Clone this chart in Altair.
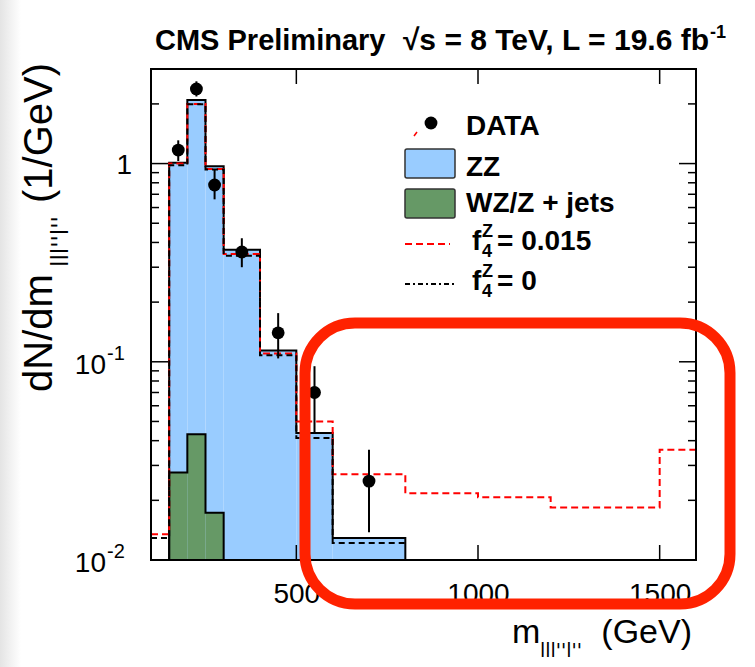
import altair as alt
import pandas as pd

# ---------------- data ----------------
# ZZ (stacked MC, light blue)
zz_lo = [150, 200, 250, 300, 400, 500, 600]
zz_hi = [200, 250, 300, 400, 500, 600, 800]
zz_val = [1.01, 2.09, 0.97, 0.368, 0.114, 0.0437, 0.0129]

# WZ/Z + jets (green)
wz_lo = [150, 200, 250]
wz_hi = [200, 250, 300]
wz_val = [0.0276, 0.0431, 0.0173]

# f4Z = 0.015 (red dashed)
f4a_edges = [100, 150, 200, 250, 300, 400, 500, 600, 800, 1000, 1200, 1500, 1600]
f4a_val = [0.0135, 1.0, 2.0, 0.94, 0.35, 0.11, 0.05, 0.0271, 0.0217, 0.0207, 0.0184, 0.036]

# f4Z = 0 (black dash)
f4b_edges = [100, 150, 200, 250, 300, 400, 500, 600, 800]
f4b_val = [0.0129, 0.98, 1.99, 0.933, 0.343, 0.108, 0.0412, 0.0122]

# DATA points with error bars
data_x = [175, 225, 275, 350, 450, 550, 700]
data_y = [1.17, 2.38, 0.78, 0.358, 0.140, 0.070, 0.025]
data_lo = [1.03, 2.18, 0.66, 0.30, 0.104, 0.044, 0.0138]
data_hi = [1.31, 2.60, 0.93, 0.42, 0.176, 0.095, 0.036]

# axis ticks / labels
x_ticks = [500, 1000, 1500]
y_major = [0.1, 1.0]
y_minor = [0.02, 0.03, 0.04, 0.05, 0.06, 0.07, 0.08, 0.09,
           0.2, 0.3, 0.4, 0.5, 0.6, 0.7, 0.8, 0.9, 2.0]
y_pow_vals = [0.1, 0.01]
y_pow_base = ["10", "10"]
y_pow_exp = ["-1", "-2"]

XMIN, XMAX = 100, 1600
YMIN, YMAX = 0.01, 3.0

W, H = 545, 491
FONT = "Liberation Sans"
SUBFONT = "DejaVu Sans"
BLUE = "#99ccff"
GREEN = "#669966"
RED = "#ff0000"

# ---------------- helpers ----------------
xs = alt.Scale(domain=[XMIN, XMAX], nice=False, zero=False)
ys = alt.Scale(type="log", domain=[YMIN, YMAX], nice=False)
xaxis = alt.Axis(values=x_ticks, format="d", ticks=False, tickSize=0, domain=False, grid=False,
                 labelFontSize=28, labelFont=FONT, labelColor="black",
                 labelPadding=20, title=None, labelFlush=False)


def X(f):
    return alt.X(f, type="quantitative", scale=xs, axis=xaxis)


def Y(f):
    return alt.Y(f, type="quantitative", scale=ys, axis=None)


def steps(edges, vals, close):
    px, py = [], []
    if close:
        px.append(edges[0]); py.append(YMIN)
    for e, v in zip(edges[:-1], vals):
        px.append(e); py.append(v)
    px.append(edges[-1]); py.append(vals[-1])
    if close:
        px.append(edges[-1]); py.append(YMIN)
    return pd.DataFrame({"x": px, "y": py, "i": list(range(len(px)))})


dummy = pd.DataFrame({"a": [0]})


def txt(s, x, y, size, bold=False, align="left", angle=0, baseline="alphabetic",
        color="black", font=FONT):
    kw = dict(text=s, fontSize=size, font=font, align=align, baseline=baseline, color=color)
    if bold:
        kw["fontWeight"] = "bold"
    if angle:
        kw["angle"] = angle
    return alt.Chart(dummy).mark_text(**kw).encode(x=alt.value(x), y=alt.value(y))


zz_df = pd.DataFrame({"lo": zz_lo, "hi": zz_hi, "v": zz_val, "b": [YMIN] * len(zz_val)})
wz_df = pd.DataFrame({"lo": wz_lo, "hi": wz_hi, "v": wz_val, "b": [YMIN] * len(wz_val)})
pts_df = pd.DataFrame({"x": data_x, "y": data_y, "lo": data_lo, "hi": data_hi})

layers = []

# light grey strip at the far left (screenshot edge)
layers.append(alt.Chart(dummy).mark_rect(
    color=alt.Gradient(gradient="linear",
                       stops=[alt.GradientStop(color="#e4e4e4", offset=0),
                              alt.GradientStop(color="#ffffff", offset=1)],
                       x1=0, x2=1, y1=0, y2=0)
).encode(x=alt.value(-151), x2=alt.value(-130), y=alt.value(-69), y2=alt.value(598)))

# histograms
layers.append(alt.Chart(zz_df).mark_rect(color=BLUE).encode(
    x=X("lo"), x2=alt.X2("hi"), y=Y("v"), y2=alt.Y2("b")))
layers.append(alt.Chart(wz_df).mark_rect(color=GREEN).encode(
    x=X("lo"), x2=alt.X2("hi"), y=Y("v"), y2=alt.Y2("b")))
layers.append(alt.Chart(steps(zz_lo + [zz_hi[-1]], zz_val, True)).mark_line(
    interpolate="step-after", color="black", strokeWidth=2).encode(
    x=X("x"), y=Y("y"), order="i:Q"))
layers.append(alt.Chart(steps(wz_lo + [wz_hi[-1]], wz_val, True)).mark_line(
    interpolate="step-after", color="black", strokeWidth=2).encode(
    x=X("x"), y=Y("y"), order="i:Q"))
layers.append(alt.Chart(steps(f4a_edges, f4a_val, False)).mark_line(
    interpolate="step-after", color=RED, strokeWidth=2, strokeDash=[7, 4]).encode(
    x=X("x"), y=Y("y"), order="i:Q"))
layers.append(alt.Chart(steps(f4b_edges, f4b_val, False)).mark_line(
    interpolate="step-after", color="black", strokeWidth=2, strokeDash=[6, 4]).encode(
    x=X("x"), y=Y("y"), order="i:Q"))

# data
layers.append(alt.Chart(pts_df).mark_rule(color="black", strokeWidth=2).encode(
    x=X("x"), y=Y("lo"), y2=alt.Y2("hi")))
layers.append(alt.Chart(pts_df).mark_circle(color="black", size=165, opacity=1).encode(
    x=X("x"), y=Y("y")))

# frame
layers.append(alt.Chart(dummy).mark_rect(fillOpacity=0, stroke="black", strokeWidth=2).encode(
    x=alt.value(0), x2=alt.value(W), y=alt.value(0), y2=alt.value(H)))

# ticks (inside, all four sides)
ymin_df = pd.DataFrame({"v": y_minor})
ymaj_df = pd.DataFrame({"v": y_major})
xt_df = pd.DataFrame({"v": x_ticks})
for df, ln in ((ymin_df, 8), (ymaj_df, 17)):
    layers.append(alt.Chart(df).mark_rule(color="black", strokeWidth=1.5).encode(
        y=Y("v"), x=alt.value(0), x2=alt.value(ln)))
    layers.append(alt.Chart(df).mark_rule(color="black", strokeWidth=1.5).encode(
        y=Y("v"), x=alt.value(W - ln), x2=alt.value(W)))
layers.append(alt.Chart(xt_df).mark_rule(color="black", strokeWidth=1.5).encode(
    x=X("v"), y=alt.value(H), y2=alt.value(H - 15)))
layers.append(alt.Chart(xt_df).mark_rule(color="black", strokeWidth=1.5).encode(
    x=X("v"), y=alt.value(0), y2=alt.value(15)))

# y tick labels
layers.append(alt.Chart(dummy).mark_text(text="1", fontSize=28, font=FONT, align="right",
                                         baseline="middle", dy=2).encode(
    x=alt.value(-19), y=alt.Y(datum=1.0, scale=ys, axis=None)))
ypow_df = pd.DataFrame({"v": y_pow_vals, "b": y_pow_base, "e": y_pow_exp})
layers.append(alt.Chart(ypow_df).mark_text(fontSize=28, font=FONT, align="right",
                                           baseline="middle", dy=4).encode(
    x=alt.value(-45), y=Y("v"), text="b:N"))
layers.append(alt.Chart(ypow_df).mark_text(fontSize=20, font=FONT, align="left",
                                           baseline="middle", dy=-8).encode(
    x=alt.value(-44), y=Y("v"), text="e:N"))

# axis titles
SUB = "lll''l''"
layers.append(txt("dN/dm", -99, 323, 40, angle=270))
layers.append(txt(SUB, -83, 198, 23, angle=270, font=SUBFONT))
layers.append(txt("(1/GeV)", -99, 134, 40, angle=270))
layers.append(txt("m", 361, 574, 34))
layers.append(txt(SUB, 389, 588, 19, font=SUBFONT))
layers.append(txt("(GeV)", 541, 574, 34, align="right"))

# title
layers.append(txt("CMS Preliminary", 4, -19, 29, bold=True))
layers.append(txt("\u221as = 8 TeV, L = 19.6 fb", 558, -19, 30, bold=True, align="right"))
layers.append(txt("-1", 559, -31, 18, bold=True))

# legend
layers.append(alt.Chart(dummy).mark_circle(color="black", size=165, opacity=1).encode(
    x=alt.value(280), y=alt.value(54)))
layers.append(alt.Chart(dummy).mark_rule(color=RED, strokeWidth=1.5).encode(
    x=alt.value(263), x2=alt.value(266), y=alt.value(67), y2=alt.value(63)))
layers.append(txt("DATA", 315, 66, 28, bold=True))
layers.append(alt.Chart(dummy).mark_rect(color=BLUE, stroke="#333333", strokeWidth=1.5,
                                         cornerRadius=2).encode(
    x=alt.value(254), x2=alt.value(304), y=alt.value(80), y2=alt.value(109)))
layers.append(txt("ZZ", 315, 107, 28, bold=True))
layers.append(alt.Chart(dummy).mark_rect(color=GREEN, stroke="#333333", strokeWidth=1.5,
                                         cornerRadius=2).encode(
    x=alt.value(254), x2=alt.value(304), y=alt.value(120), y2=alt.value(149)))
layers.append(txt("WZ/Z + jets", 315, 143, 28, bold=True))
layers.append(alt.Chart(dummy).mark_rule(color=RED, strokeWidth=2, strokeDash=[7, 4]).encode(
    x=alt.value(254), x2=alt.value(299), y=alt.value(175)))
layers.append(txt("f", 321, 181, 28, bold=True))
layers.append(txt("Z", 331, 168, 18, bold=True))
layers.append(txt("4", 331, 188, 18, bold=True))
layers.append(txt("= 0.015", 346, 181, 28, bold=True))
layers.append(alt.Chart(dummy).mark_rule(color="black", strokeWidth=2,
                                         strokeDash=[5, 3, 2, 3]).encode(
    x=alt.value(254), x2=alt.value(304), y=alt.value(215)))
layers.append(txt("f", 321, 221, 28, bold=True))
layers.append(txt("Z", 331, 208, 18, bold=True))
layers.append(txt("4", 331, 228, 18, bold=True))
layers.append(txt("= 0", 346, 221, 28, bold=True))

# red rounded highlight box (annotation)
layers.append(alt.Chart(dummy).mark_rect(fillOpacity=0, stroke="#ff2200", strokeWidth=11,
                                         cornerRadius=50).encode(
    x=alt.value(154), x2=alt.value(579), y=alt.value(254), y2=alt.value(535)))

chart = alt.layer(*layers).properties(
    width=W, height=H,
    autosize=alt.AutoSizeParams(type="none"),
    padding={"left": 151, "top": 69, "right": 59, "bottom": 107},
    background="white",
).configure_view(strokeWidth=0)

chart.save("out.html", embed_options={"renderer": "svg", "actions": False})
